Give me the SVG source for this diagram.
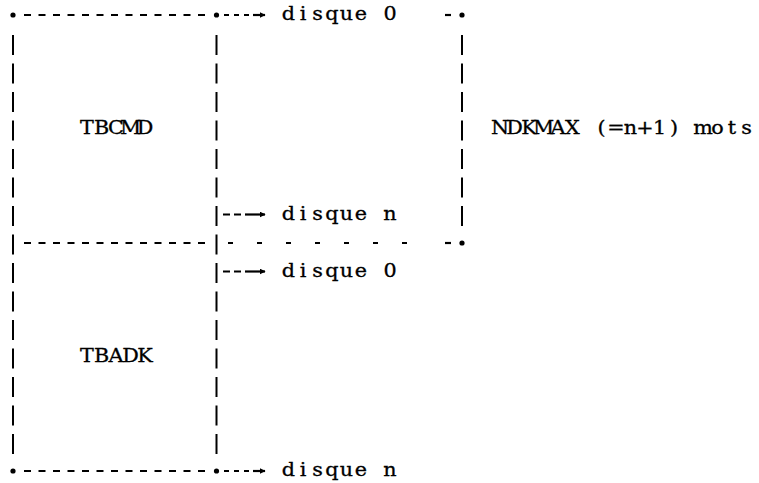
<svg xmlns="http://www.w3.org/2000/svg" width="759" height="483" viewBox="0 0 759 483">
  <style>
    /* typewriter text: each glyph centred in a 14.5px cell, widened 12% (x values are in the scaled space) */
    .t { font-family: "DejaVu Serif", "Liberation Serif", serif; font-size: 18.5px; fill: #000; stroke: #000; stroke-width: 0.3; text-anchor: middle; }
    .ln { stroke: #000; stroke-width: 2.2; fill: none; }
    .bar { stroke: #000; stroke-width: 2; fill: none; stroke-dasharray: 20 8.5; }
    .dash { stroke: #000; stroke-width: 2.2; fill: none; stroke-dasharray: 7 7.5; }
    .sparse { stroke: #000; stroke-width: 2; fill: none; stroke-dasharray: 5 24; }
    .dot { fill: #000; }
  </style>
  <defs>
    <marker id="head" viewBox="0 0 10 10" refX="9" refY="5" markerWidth="6" markerHeight="6" markerUnits="userSpaceOnUse" orient="auto">
      <path d="M0,0 L10,5 L0,10 Z" fill="#000"/>
    </marker>
  </defs>

  <rect width="759" height="483" fill="#fff"/>

  <!-- table frames and pointer arrows -->
  <g id="connectors">
    <!-- top edge of TBCMD, then pointer to disque 0 -->
    <circle class="dot" cx="13" cy="15" r="2.6"/>
    <line class="dash" x1="24" y1="15" x2="205" y2="15"/>
    <circle class="dot" cx="216.5" cy="15" r="2.6"/>
    <path class="ln" d="M224,15 h5 M234,15 h5 M244,15 h5"/>
    <line class="ln" x1="253" y1="15" x2="265" y2="15" marker-end="url(#head)"/>

    <!-- left and middle verticals -->
    <line class="bar" x1="13" y1="35" x2="13" y2="454"/>
    <line class="bar" x1="216.5" y1="35" x2="216.5" y2="454"/>

    <!-- pointer to disque n (TBCMD) -->
    <path class="ln" d="M223,214.5 h7 M234,214.5 h7"/>
    <line class="ln" x1="245" y1="214.5" x2="265" y2="214.5" marker-end="url(#head)"/>

    <!-- separator between the two tables -->
    <line class="dash" x1="24" y1="243" x2="205" y2="243"/>
    <line class="sparse" x1="228" y1="243" x2="408" y2="243"/>

    <!-- pointer to disque 0 (TBADK) -->
    <path class="ln" d="M223,271.5 h7 M234,271.5 h7"/>
    <line class="ln" x1="245" y1="271.5" x2="265" y2="271.5" marker-end="url(#head)"/>

    <!-- bottom edge of TBADK, then pointer to disque n -->
    <circle class="dot" cx="13" cy="471" r="2.6"/>
    <line class="dash" x1="24" y1="471" x2="205" y2="471"/>
    <circle class="dot" cx="216.5" cy="471" r="2.6"/>
    <path class="ln" d="M224,471 h5 M234,471 h5 M244,471 h5"/>
    <line class="ln" x1="253" y1="471" x2="265" y2="471" marker-end="url(#head)"/>
  </g>

  <g id="tbcmd">
    <text class="t" transform="scale(1.12 1)" x="77.68 90.63 103.57 116.52 129.46" y="134">TBCMD</text>
  </g>

  <g id="tbadk">
    <text class="t" transform="scale(1.12 1)" x="77.68 90.63 103.57 116.52 129.46" y="362">TBADK</text>
  </g>

  <g id="disks-cmd">
    <text class="t" transform="scale(1.12 1)" x="257.59 270.54 283.48 296.43 309.38 322.32 335.27 348.21" y="20.5">disque 0</text>
    <text class="t" transform="scale(1.12 1)" x="257.59 270.54 283.48 296.43 309.38 322.32 335.27 348.21" y="220">disque n</text>
  </g>

  <g id="disks-adk">
    <text class="t" transform="scale(1.12 1)" x="257.59 270.54 283.48 296.43 309.38 322.32 335.27 348.21" y="277">disque 0</text>
    <text class="t" transform="scale(1.12 1)" x="257.59 270.54 283.48 296.43 309.38 322.32 335.27 348.21" y="476.5">disque n</text>
  </g>

  <!-- size bracket on the right -->
  <g id="ndkmax">
    <line class="ln" x1="445" y1="15" x2="451" y2="15"/>
    <circle class="dot" cx="462" cy="15" r="2.6"/>
    <line class="bar" x1="462" y1="35" x2="462" y2="226"/>
    <line class="ln" x1="445" y1="243" x2="451" y2="243"/>
    <circle class="dot" cx="462" cy="243" r="2.6"/>
    <text class="t" transform="scale(1.12 1)" x="446.43 459.38 472.32 485.27 498.21 511.16 524.11 537.05 550 562.95 575.89 588.84 601.79 614.73 627.68 640.63 653.57 666.52" y="134">NDKMAX (=n+1) mots</text>
  </g>
</svg>
